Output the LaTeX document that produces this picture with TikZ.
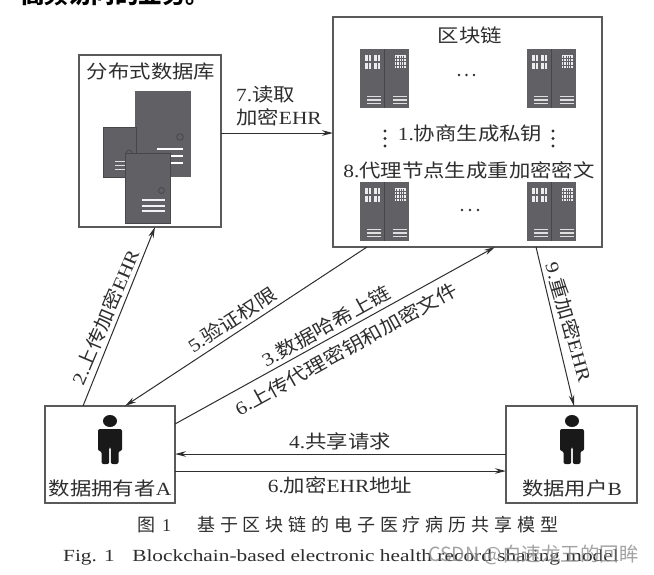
\documentclass[tikz,border=0pt]{standalone}
\usepackage{fontspec}
\usepackage{graphicx}
\setmainfont{Liberation Serif}
\newfontfamily\cjk[FakeStretch=1.15]{Noto Sans CJK SC}
\newfontfamily\cjktop{Noto Sans CJK SC}
\newfontfamily\cjkplain{Noto Sans CJK SC}
\newfontfamily\cjkcap[LetterSpace=27]{Noto Sans CJK SC}
\newfontfamily\latn[FakeStretch=1.15]{Liberation Serif}
\usetikzlibrary{arrows.meta}
\definecolor{srv}{HTML}{616165}
\definecolor{srvd}{HTML}{47474B}
\definecolor{edge}{HTML}{5A5A5A}
\definecolor{ink}{HTML}{2E2E2E}
\newcommand{\rackunit}[2]{%
  \begin{scope}[shift={(#1,#2)}]
    \fill[srv] (0,0) rectangle (49,59);
    \fill[srvd] (23.6,0) rectangle (25.4,59);
    \foreach \cx in {5,14}{\foreach \cy in {6,14}{
      \fill[white!88!srv] (\cx,\cy) rectangle (\cx+6,\cy+5.5);
      \draw[srv,line width=.5pt] (\cx+3,\cy) -- (\cx+3,\cy+5.5);}}
    \fill[white!90!srv] (34.5,6) rectangle (46,19);
    \foreach \gx in {36.7,39,41.3,43.6}{\draw[srv,line width=.6pt] (\gx,6.5) -- (\gx,18.5);}
    \foreach \gy in {9,12.5,16}{\draw[srv,line width=.5pt] (35,\gy) -- (45.5,\gy);}
    \foreach \ly in {46.5,50,53.5}{
      \fill[white!80!srv] (7,\ly) rectangle (21,\ly+1.6);
      \fill[white!80!srv] (33,\ly) rectangle (47,\ly+1.6);}
  \end{scope}}
\newcommand{\person}[1]{%
  \begin{scope}[shift={(#1,0)}]
    \fill[black!90] (0,421) ellipse [x radius=7,y radius=6];
    \fill[black!90] [rounded corners=2pt] (-12,429) -- (12,429) -- (12,451) -- (8.5,451) -- (8.5,464) -- (0.8,464) -- (0.8,447) -- (-0.8,447) -- (-0.8,464) -- (-8.5,464) -- (-8.5,451) -- (-12,451) -- cycle;
  \end{scope}}
\newcommand{\threeh}[3]{\fill[ink] (#1,#3) circle (1.3) (#2,#3) circle (1.3) ({(#1+#2)/2},#3) circle (1.3);}
\newcommand{\threev}[1]{\fill[ink] (#1,131) circle (1.6) (#1,138.5) circle (1.6) (#1,146) circle (1.6);}
\tikzset{
  boxnode/.style={draw=edge,line width=1.3pt,fill=white,inner sep=0pt,outer sep=0pt},
  txt/.style={font=\fontsize{18.6}{22}\selectfont\cjk,text=ink,inner sep=0pt},
  conn/.style={draw=ink,line width=1pt,-{Stealth[length=11pt,width=5.5pt]}}
}
\begin{document}
\begin{tikzpicture}[x=1pt,y=-1pt]
\useasboundingbox (0,0) rectangle (654,574);
\fill[white] (0,0) rectangle (654,574);
\node[font=\fontsize{23.5}{26}\selectfont\cjktop\bfseries,text=black,inner sep=0pt,anchor=west] (top) at (21,-5) {高频访问的业务。};

\node[boxnode,minimum width=142pt,minimum height=172pt] (db) at (150,141) {};
\node[boxnode,minimum width=269pt,minimum height=230pt] (chain) at (467.5,132) {};
\node[boxnode,minimum width=130pt,minimum height=97pt] (ua) at (110,454.5) {};
\node[boxnode,minimum width=131pt,minimum height=97pt] (ub) at (571.5,454.5) {};

% database servers
\fill[srv] (135,91) rectangle (191,177);
\fill[srv] (103,127) rectangle (136,177);
\draw[srvd,line width=.6pt] (103,127) rectangle (136,177);
\draw[srvd,line width=.8pt] (180,137) circle (3.3);
\foreach \ly in {148,155,161.5}{\fill[white] (157,\ly) rectangle (183,\ly+2);}
\foreach \ly in {160.5,165,169}{\fill[white!80!srv] (115,\ly) rectangle (126,\ly+1.3);}
\draw[srvd,line width=.8pt] (129,153) circle (3);
\fill[srv,draw=srvd,line width=.6pt] (125,153.5) rectangle (170.5,223);
\draw[srvd,line width=.8pt] (161.5,190.5) circle (3);
\foreach \ly in {199,205,210}{\fill[white!92!srv] (142,\ly) rectangle (165,\ly+2);}

% chain servers
\rackunit{360}{49}
\rackunit{527}{49}
\rackunit{360}{182}
\rackunit{527}{182}
\threeh{459}{474}{75}
\threeh{462}{478}{210}
\threev{385}
\threev{553}

\person{110}
\person{572}

% connectors
\draw[conn] ([xshift=38pt]ua.north west) -- ([xshift=76pt]db.south west);
\draw[conn] ([xshift=34pt]chain.south west) -- ([xshift=80pt]ua.north west);
\draw[conn] ([yshift=-18pt]ua.north east) -- ([xshift=162pt]chain.south west);
\draw[conn] ([xshift=203pt]chain.south west) -- ([xshift=68pt]ub.north west);
\draw[conn] ([yshift=-78pt]db.north east) -- ([yshift=-116pt]chain.north west);
\draw[conn] ([yshift=-48pt]ub.north west) -- ([yshift=-48pt]ua.north east);
\draw[conn] ([yshift=-65pt]ua.north east) -- ([yshift=-65pt]ub.north west);

% labels
\node[txt] (t1) at (151,71) {分布式数据库};
\node[txt] (t2) at (470,35) {区块链};
\node[txt] (t3) at (470,133) {{\latn 1.}协商生成私钥};
\node[txt] (t4) at (469,170) {{\latn 8.}代理节点生成重加密密文};
\node[txt,anchor=west] (t5) at (236,94) {{\latn 7.}读取};
\node[txt,anchor=west] (t6) at (236,117) {加密{\latn EHR}};
\node[txt] (t7) at (110,488) {数据拥有者{\latn A}};
\node[txt] (t8) at (572,488) {数据用户{\latn B}};
\node[txt] (t9) at (340,441) {{\latn 4.}共享请求};
\node[txt] (t10) at (340,485) {{\latn 6.}加密{\latn EHR}地址};
\node[txt,rotate=67] (t11) at (105,317) {{\latn 2.}上传加密{\latn EHR}};
\node[txt,rotate=33] (t12) at (232,320) {{\latn 5.}验证权限};
\node[txt,rotate=29] (t13) at (326,326) {{\latn 3.}数据哈希上链};
\node[txt,rotate=29] (t14) at (346,349) {{\latn 6.}上传代理密钥和加密文件};
\node[txt,rotate=-74] (t15) at (569,322) {{\latn 9.}重加密{\latn EHR}};

% captions
\node[font=\fontsize{18}{20}\selectfont\cjkplain,text=ink,inner sep=0pt,anchor=west] (c0) at (137,525) {图\hspace{7pt}{\rmfamily 1}};
\node[font=\fontsize{18}{20}\selectfont\cjkcap,text=ink,inner sep=0pt,anchor=west] (c1) at (197,525) {基于区块链的电子医疗病历共享模型};
\node[font=\fontsize{17}{20}\selectfont,text=ink,inner sep=0pt,anchor=west] (c2) at (63,557) {\scalebox{1.255}[1]{Fig. 1\hspace{14pt}Blockchain-based electronic health record sharing model}};
\node[font=\fontsize{19.5}{22}\selectfont\cjkplain,text=black!45,inner sep=0pt,anchor=west,opacity=.8] (wm) at (428,555) {CSDN @白速龙王的回眸};
\end{tikzpicture}
\end{document}
